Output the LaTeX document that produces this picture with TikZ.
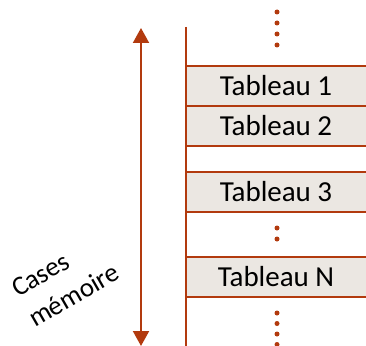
\documentclass[tikz,border=0pt]{standalone}
\usepackage{fontspec}
\setmainfont{Carlito}
\usetikzlibrary{arrows.meta}
\definecolor{rust}{RGB}{178,58,14}
\definecolor{boxfill}{RGB}{235,231,226}
\tikzset{
  tabbox/.style={draw=rust, fill=boxfill, line width=2.7pt, minimum width=190pt, minimum height=40pt, inner sep=0pt, text=black, font=\fontsize{29}{31}\selectfont},
  memdot/.style={circle, fill=rust, inner sep=0pt, minimum size=5pt},
  lbl/.style={rotate=30, anchor=base west, inner sep=0pt, font=\fontsize{27}{30}\selectfont}
}
\begin{document}
\begin{tikzpicture}[x=1pt,y=-1pt]
\useasboundingbox (0,0) rectangle (366,345);
% vertical wall
\coordinate (wtop) at (186,27);
\coordinate (wbot) at (186,350);
\draw[rust, line width=2.7pt] (wtop) -- (wbot);
% boxes
\node[tabbox] (t1) at (281,86) {\hspace*{-10pt}Tableau 1};
\node[tabbox] (t2) at (281,126) {\hspace*{-10pt}Tableau 2};
\node[tabbox] (t3) at (281,192) {\hspace*{-10pt}Tableau 3};
\node[tabbox] (tn) at (281,277) {\hspace*{-10pt}Tableau N};
% dots
\foreach \y [count=\i] in {12,23,34,45} \node[memdot] (da\i) at (277,\y) {};
\foreach \y [count=\i] in {228,239} \node[memdot] (db\i) at (277,\y) {};
\foreach \y [count=\i] in {313,323.5,334,344.5} \node[memdot] (dc\i) at (277,\y) {};
% arrow
\coordinate (atop) at (141,28);
\coordinate (abot) at (141,346);
\draw[rust, line width=2pt, {Triangle[width=16pt,length=15pt]}-{Triangle[width=16pt,length=15pt]}] (atop) -- (abot);
% label
\node[lbl] (c1) at (18,298) {Cases};
\node[lbl] (c2) at (35,328) {mémoire};
\end{tikzpicture}
\end{document}
